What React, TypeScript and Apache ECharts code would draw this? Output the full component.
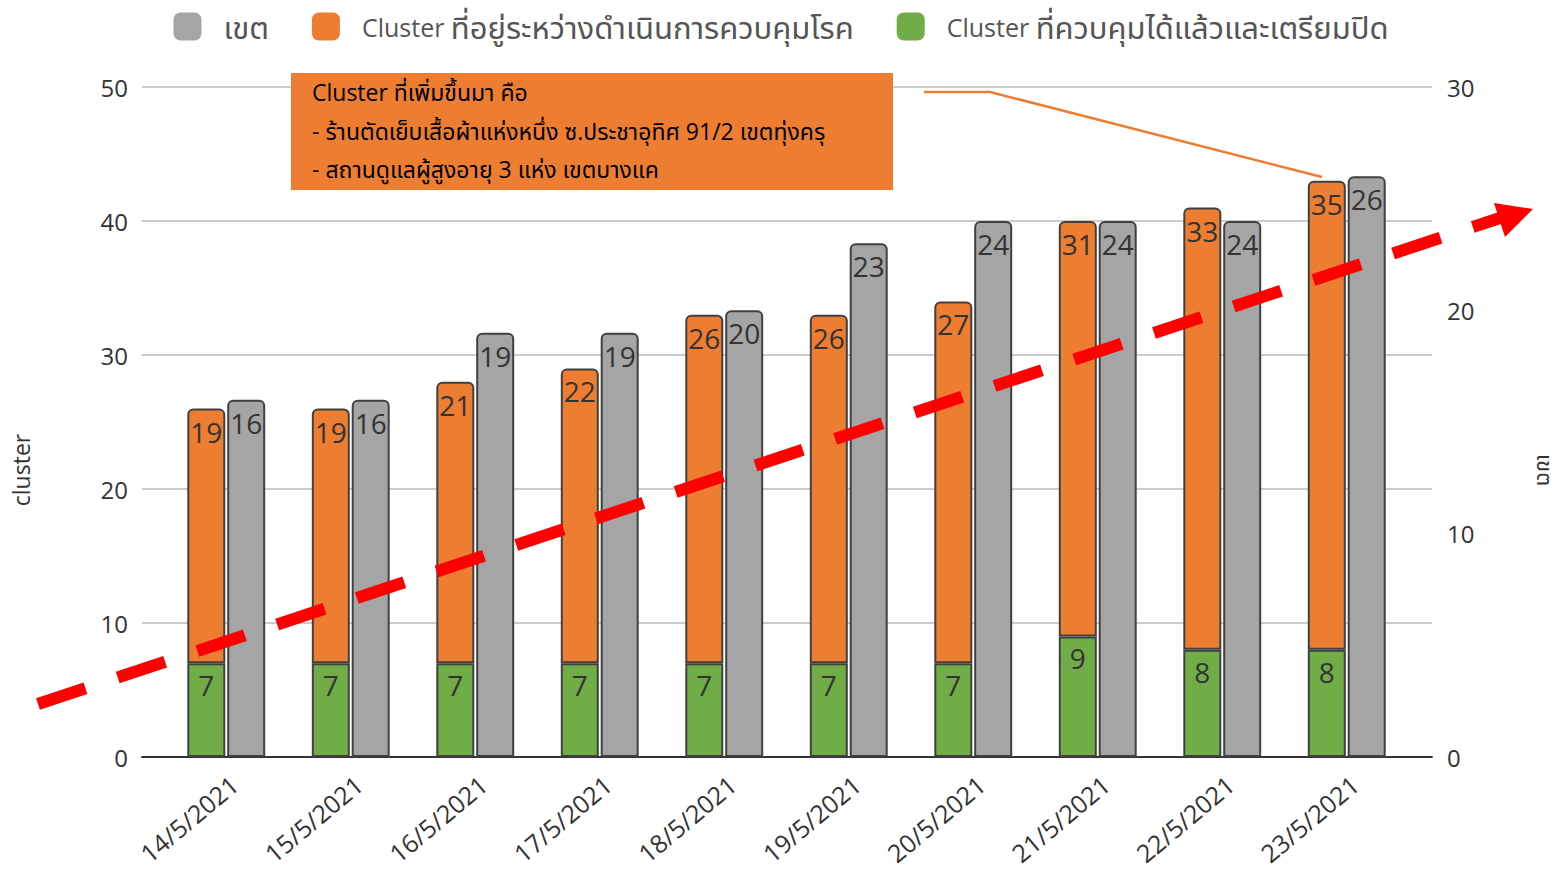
import React, { useEffect, useRef } from "react";
import * as echarts from "echarts";

const categories = ["14/5/2021", "15/5/2021", "16/5/2021", "17/5/2021", "18/5/2021", "19/5/2021", "20/5/2021", "21/5/2021", "22/5/2021", "23/5/2021"];
const closedClusters = [7, 7, 7, 7, 7, 7, 7, 9, 8, 8];
const activeClusters = [19, 19, 21, 22, 26, 26, 27, 31, 33, 35];
const districts = [16, 16, 19, 19, 20, 23, 24, 24, 24, 26];
const leftTicks = { min: 0, max: 50, interval: 10 };
const rightTicks = { min: 0, max: 30, interval: 10 };
const noteLines = [
  "Cluster ที่เพิ่มขึ้นมา คือ",
  "- ร้านตัดเย็บเสื้อผ้าแห่งหนึ่ง ซ.ประชาอุทิศ 91/2 เขตทุ่งครุ",
  "- สถานดูแลผู้สูงอายุ 3 แห่ง เขตบางแค",
];

const NAME_GRAY = "เขต";
const NAME_ORANGE = "Cluster ที่อยู่ระหว่างดำเนินการควบคุมโรค";
const NAME_GREEN = "Cluster ที่ควบคุมได้แล้วและเตรียมปิด";
const RIGHT_AXIS_NAME = "เขต";

const FONT = '"Open Sans", "Noto Sans", "Noto Sans Thai", Tahoma, sans-serif';

export default function App() {
  const ref = useRef<HTMLDivElement>(null);
  useEffect(() => {
    if (!ref.current) return;
    const chart = echarts.init(ref.current, undefined, { renderer: "svg" });
    const labelBase = { show: true, position: "insideTop", distance: 9, fontSize: 28, color: "#333", fontFamily: FONT };
    const option: any = {
      animation: false,
      textStyle: { fontFamily: FONT },
      legend: {
        top: 6,
        left: "center",
        itemWidth: 28,
        itemHeight: 28,
        itemGap: 43,
        icon: "roundRect",
        itemStyle: { borderWidth: 0 },
        formatter: (name: string) =>
          name.startsWith("Cluster ") ? `{l|Cluster }{t|${name.slice(8)}}` : `{t|${name}}`,
        textStyle: {
          color: "#555",
          fontFamily: FONT,
          padding: [0, 0, 0, 17],
          rich: {
            l: { fontSize: 25, color: "#555", fontFamily: FONT },
            t: { fontSize: 31, color: "#555", fontFamily: FONT },
          },
        },
        data: [NAME_GRAY, NAME_ORANGE, NAME_GREEN],
      },
      grid: [
        { left: 164, right: 153, top: 87, bottom: 118, outerBoundsMode: "none", containLabel: false },
        { left: 142, right: 130, top: 87, bottom: 118, outerBoundsMode: "none", containLabel: false },
      ],
      xAxis: [
        {
          type: "category",
          gridIndex: 0,
          data: categories,
          axisLine: { show: false },
          axisTick: { show: false },
          axisLabel: { rotate: 40, fontSize: 25, color: "#333", margin: 14, fontFamily: FONT, verticalAlign: "top" },
        },
        {
          type: "value",
          gridIndex: 1,
          min: 0,
          max: 1,
          axisLine: { show: true, onZero: false, lineStyle: { color: "#333", width: 2 } },
          axisTick: { show: false },
          axisLabel: { show: false },
          splitLine: { show: false },
        },
      ],
      yAxis: [
        { type: "value", gridIndex: 0, ...leftTicks, show: false, splitLine: { show: false } },
        { type: "value", gridIndex: 0, ...rightTicks, show: false, position: "right", splitLine: { show: false } },
        {
          type: "value",
          gridIndex: 1,
          ...leftTicks,
          name: "cluster",
          nameLocation: "middle",
          nameGap: 110,
          nameTextStyle: { fontSize: 23, color: "#333", fontFamily: FONT, padding: [0, 96, 0, 0] },
          axisLine: { show: false },
          axisTick: { show: false },
          axisLabel: { fontSize: 24, color: "#333", margin: 14, fontFamily: FONT },
          splitLine: { show: true, lineStyle: { color: "#ccc", width: 2 } },
        },
        {
          type: "value",
          gridIndex: 1,
          ...rightTicks,
          position: "right",
          axisLine: { show: false },
          axisTick: { show: false },
          axisLabel: { fontSize: 24, color: "#333", margin: 15, fontFamily: FONT },
          splitLine: { show: false },
        },
      ],
      series: [
        {
          name: NAME_GREEN,
          type: "bar",
          stack: "cluster",
          xAxisIndex: 0,
          yAxisIndex: 0,
          barWidth: 38,
          barGap: "5%",
          data: closedClusters,
          itemStyle: { color: "#70AD47", borderColor: "#404040", borderWidth: 2 },
          label: { ...labelBase, distance: 8 },
        },
        {
          name: NAME_ORANGE,
          type: "bar",
          stack: "cluster",
          xAxisIndex: 0,
          yAxisIndex: 0,
          barWidth: 38,
          data: activeClusters,
          itemStyle: { color: "#ED7D31", borderColor: "#404040", borderWidth: 2, borderRadius: [5, 5, 0, 0] },
          label: { ...labelBase },
        },
        {
          name: NAME_GRAY,
          type: "bar",
          xAxisIndex: 0,
          yAxisIndex: 1,
          barWidth: 38,
          barGap: "5%",
          data: districts,
          itemStyle: { color: "#A5A5A5", borderColor: "#404040", borderWidth: 2, borderRadius: [5, 5, 0, 0] },
          label: { ...labelBase },
        },
      ],
      graphic: [
        {
          type: "text",
          x: 1546,
          y: 470,
          rotation: -Math.PI / 2,
          style: {
            text: RIGHT_AXIS_NAME,
            fill: "#333",
            font: `22px ${FONT}`,
            textAlign: "center",
            textVerticalAlign: "middle",
          },
        },
        {
          type: "rect",
          shape: { x: 291, y: 73, width: 602, height: 117 },
          style: { fill: "#ED7D31" },
          z: 10,
        },
        ...noteLines.map((t, i) => ({
          type: "text",
          x: 312,
          y: 92 + i * 38.5,
          style: { text: t, fill: "#000", font: `23px ${FONT}`, textVerticalAlign: "middle" },
          z: 11,
        })),
        {
          type: "polyline",
          shape: { points: [[924, 92], [990, 92], [1322, 177]] },
          style: { stroke: "#ED7D31", lineWidth: 2.5, fill: null },
          z: 10,
        },
        {
          type: "line",
          shape: { x1: 38, y1: 704, x2: 1500, y2: 218 },
          style: { stroke: "#FF0000", lineWidth: 12, lineDash: [50, 34] },
          z: 12,
        },
        {
          type: "polygon",
          shape: { points: [[1494, 203], [1533, 209], [1505, 237]] },
          style: { fill: "#FF0000" },
          z: 12,
        },
      ],
    };
    chart.setOption(option);
    return () => chart.dispose();
  }, []);
  return <div ref={ref} style={{ position: "absolute", left: 0, top: 0, width: 1562, height: 875 }} />;
}
